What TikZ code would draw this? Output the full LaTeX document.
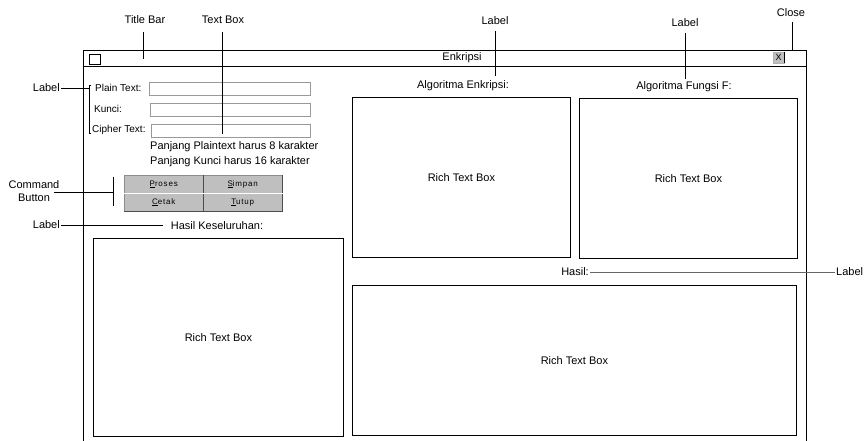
\documentclass[tikz,border=0pt]{standalone}
\usepackage{fontspec}
\setmainfont{Liberation Sans}
\newfontfamily\btnfont[LetterSpace=10]{Liberation Sans}
\begin{document}
\begin{tikzpicture}[x=1pt,y=-1pt,
  lbl/.style={font=\fontsize{11}{13}\selectfont, inner sep=1pt},
  txt/.style={font=\fontsize{11}{12}\selectfont, inner sep=1pt},
  small/.style={font=\fontsize{10}{11}\selectfont, inner sep=1pt},
  callout/.style={line width=0.7pt},
  rtb/.style={draw, line width=0.8pt, anchor=north west, font=\fontsize{11}{12}\selectfont, inner sep=0pt},
  tbox/.style={draw=black!40, line width=0.6pt, anchor=north west, inner sep=0pt, minimum height=13pt},
  btn/.style={fill=black!25, draw=black!45, line width=0.5pt, anchor=north west, inner sep=0pt,
     minimum width=79pt, minimum height=18pt, font=\btnfont\fontsize{8}{9}\selectfont}
]
\useasboundingbox (0,0) rectangle (866,441);
% window
\draw[line width=0.8pt] (83,441) -- (83,50) -- (806,50) -- (806,441);
\draw[line width=0.8pt] (83,66) -- (806,66);
\node[draw, line width=0.6pt, anchor=north west, minimum width=11pt, minimum height=10pt, inner sep=0pt] (sysbox) at (89,54) {};
\node[txt] (title) at (462,58) {Enkripsi};
\node[fill=black!25, draw=black!30, anchor=north west, minimum width=11pt, minimum height=11pt, inner sep=0pt, font=\fontsize{9}{9}\selectfont] (close) at (773,52) {X};
\draw[line width=0.5pt] (close.north east) -- (close.south east);

% labels and text boxes
\node[small, anchor=west] (lplain) at (94,88) {Plain Text:};
\node[small, anchor=west] (lkunci) at (93,109) {Kunci:};
\node[small, anchor=west] (lcipher) at (91,130) {Cipher Text:};
\node[tbox, minimum width=161pt] (bplain) at (149,82) {};
\node[tbox, minimum width=160pt] (bkunci) at (150,103) {};
\node[tbox, minimum width=159pt] (bcipher) at (151,124) {};
\node[txt, anchor=west] (info1) at (149,147) {Panjang Plaintext harus 8 karakter};
\node[txt, anchor=west] (info2) at (149,162) {Panjang Kunci harus 16 karakter};

% buttons
\node[btn] (bproses) at (124,175) {\underline{P}roses};
\node[btn] (bsimpan) at (203,175) {\underline{S}impan};
\node[btn] (bcetak) at (124,193) {\underline{C}etak};
\node[btn] (btutup) at (203,193) {\underline{T}utup};
\draw[black!70, line width=0.6pt] (bproses.north east) -- (bcetak.south east);
\draw[black!70, line width=0.6pt] (bsimpan.north east) -- (btutup.south east);
\draw[black!70, line width=0.6pt] (bcetak.south west) -- (btutup.south east);
\draw[white, line width=0.5pt] (bcetak.north west) -- (btutup.north east);

% group labels
\node[txt] (lhasilk) at (217,226) {Hasil Keseluruhan:};
\node[txt] (lalgo) at (463,86) {Algoritma Enkripsi:};
\node[txt] (lfungsi) at (684,87) {Algoritma Fungsi F:};
\node[txt] (lhasil) at (575,272) {Hasil:};

% rich text boxes
\node[rtb, minimum width=250pt, minimum height=198pt] (rleft) at (93,238) {Rich Text Box};
\node[rtb, minimum width=218pt, minimum height=160pt] (ralgo) at (352,97) {Rich Text Box};
\node[rtb, minimum width=218pt, minimum height=160pt] (rfungsi) at (579,98) {Rich Text Box};
\node[rtb, minimum width=444pt, minimum height=150pt] (rhasil) at (352,285) {Rich Text Box};

% callouts
\node[lbl] (cTitle) at (145,20) {Title Bar};
\coordinate (pTitle) at (143,59);
\draw[callout] (143,32) -- (pTitle);

\node[lbl] (cText) at (223,20) {Text Box};
\coordinate (pText) at (222,134);
\draw[callout] (222,32) -- (pText);

\node[lbl] (cLab1) at (495,21) {Label};
\coordinate (pLab1) at (495,76);
\draw[callout] (495,31) -- (pLab1);

\node[lbl] (cLab2) at (685,23) {Label};
\coordinate (pLab2) at (685,79);
\draw[callout] (685,33) -- (pLab2);

\node[lbl] (cClose) at (791,13) {Close};
\coordinate (pClose) at (792,51);
\draw[callout] (792,22) -- (pClose);

\node[lbl, anchor=east] (cLab3) at (61,88) {Label};
\coordinate (b3a) at (89,88);
\coordinate (b3b) at (89,133);
\draw[callout] (cLab3.east) -- (b3a);
\draw[line width=0.6pt] (91,85) -- (89,85) -- (b3b) -- (91,133);

\node[lbl, align=center] (cCmd) at (34,191) {Command\\Button};
\coordinate (b4) at (113,192);
\draw[callout] (54,192) -- (b4);
\draw[line width=0.6pt] (113,177) -- (113,206);

\node[lbl, anchor=east] (cLab4) at (61,225) {Label};
\draw[callout] (cLab4.east) -- (163,225);

\node[lbl, anchor=west] (cLab5) at (835,272) {Label};
\draw[black!60, line width=0.8pt] (lhasil.east) -- (cLab5.west);
\end{tikzpicture}
\end{document}
